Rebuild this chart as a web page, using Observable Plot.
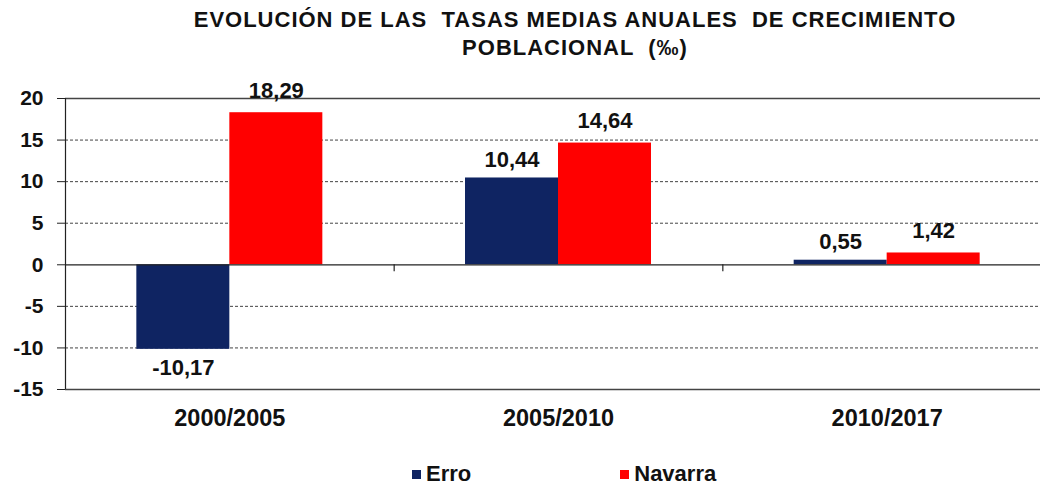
<!DOCTYPE html>
<html>
<head>
<meta charset="utf-8">
<script src="https://cdn.jsdelivr.net/npm/d3@7"></script>
<script src="https://cdn.jsdelivr.net/npm/@observablehq/plot@0.6"></script>
<style>
  html, body { margin: 0; padding: 0; background: #fff; overflow: hidden; width: 1040px; }
  body { font-family: "Liberation Sans", Arial, sans-serif; color: #111; }
  #title { height: 62px; box-sizing: border-box; padding-top: 6px; text-align: center; font-weight: bold; font-size: 22px; line-height: 27.5px; letter-spacing: 1px; padding-left: 110px; white-space: pre; }
  #legend { padding-top: 20px; padding-left: 412px; display: flex; align-items: center; font-weight: bold; font-size: 22px; line-height: 24px; }
  .item { display: flex; align-items: center; }
  .sw { width: 9px; height: 9px; margin-right: 5px; }
</style>
</head>
<body>
<div id="title"></div>
<div id="chart"></div>
<div id="legend"></div>
<script>
const titleLines = ["EVOLUCIÓN DE LAS  TASAS MEDIAS ANUALES  DE CRECIMIENTO", "POBLACIONAL  (‰)"];
const periods = ["2000/2005", "2005/2010", "2010/2017"];
const seriesNames = ["Erro", "Navarra"];
const erroValues = [-10.17, 10.44, 0.55];
const navarraValues = [18.29, 14.64, 1.42];
const seriesColors = ["#0f2462", "#ff0000"];
const yTicks = [-15, -10, -5, 0, 5, 10, 15, 20];
const dashedLines = [-10, -5, 5, 10, 15];

document.getElementById("title").innerHTML = titleLines.join("<br>");

const W = 1040, H = 380;
const mL = 65, mR = -11, mT = 36, mB = 53;
const step = (W - mL - mR) / periods.length;
const barW = 93;
const fmt = v => v.toFixed(2).replace(".", ",");

const erro = periods.map((p, i) => ({period: p, value: erroValues[i]}));
const navarra = periods.map((p, i) => ({period: p, value: navarraValues[i]}));

const labelMarks = (rows, dx, dyPos) => [
  Plot.text(rows.filter(d => d.value >= 0), {x: "period", y: "value", text: d => fmt(d.value), dx, dy: dyPos, fontSize: 22, fontWeight: "bold", fill: "#111"}),
  Plot.text(rows.filter(d => d.value < 0), {x: "period", y: "value", text: d => fmt(d.value), dx, dy: 19, fontSize: 22, fontWeight: "bold", fill: "#111"})
];

const chart = Plot.plot({
  width: W, height: H,
  marginLeft: mL, marginRight: mR, marginTop: mT, marginBottom: mB,
  style: {fontFamily: '"Liberation Sans", Arial, sans-serif', color: "#111", overflow: "hidden"},
  x: {type: "band", domain: periods, padding: 0, round: false},
  y: {domain: [-15, 20]},
  marks: [
    Plot.ruleY(dashedLines, {stroke: "#444", strokeWidth: 1, strokeDasharray: "3,2"}),
    Plot.barY(erro, {x: "period", y: "value", fill: seriesColors[0], insetLeft: step / 2 - barW, insetRight: step / 2}),
    Plot.barY(navarra, {x: "period", y: "value", fill: seriesColors[1], insetLeft: step / 2, insetRight: step / 2 - barW}),
    Plot.ruleY([20, -15], {stroke: "#444", strokeWidth: 1.6}),
    Plot.ruleY([0], {stroke: "#222", strokeWidth: 1.2}),
    Plot.ruleX(periods.slice(1), {x: d => d, y1: 0, y2: 0, insetBottom: -7, dx: -step / 2, stroke: "#222", strokeWidth: 1.2}),
    Plot.ruleX(periods.slice(0, 1), {x: d => d, dx: -step / 2, stroke: "#222", strokeWidth: 1.2}),
    ...labelMarks(erro, -barW / 2, -18),
    ...labelMarks(navarra, barW / 2, -22),
    Plot.axisY({ticks: yTicks, tickFormat: d => String(d), tickSize: 8, tickPadding: 14, fontSize: 21, fontWeight: "bold", label: null, stroke: "#222"}),
    Plot.axisX({tickSize: 0, tickPadding: 20, fontSize: 23.5, fontWeight: "bold", label: null})
  ]
});
document.getElementById("chart").appendChild(chart);

const legend = document.getElementById("legend");
seriesNames.forEach((name, i) => {
  const item = document.createElement("div");
  item.className = "item";
  if (i === 0) item.style.marginRight = "149px";
  const sw = document.createElement("div");
  sw.className = "sw";
  sw.style.background = seriesColors[i];
  const t = document.createElement("span");
  t.textContent = name;
  item.appendChild(sw);
  item.appendChild(t);
  legend.appendChild(item);
});
</script>
</body>
</html>
